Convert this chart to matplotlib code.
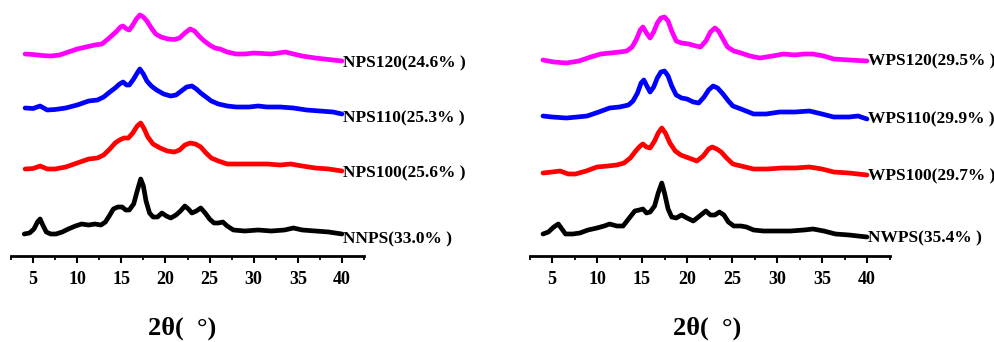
import matplotlib
matplotlib.use("Agg")
import matplotlib.pyplot as plt
from matplotlib.ticker import MultipleLocator

# ---------------- data (stacked intensity, a.u.) ----------------
# Left panel
nnps_x = [4.0, 4.6, 5.1, 5.5, 5.8, 6.1, 6.5, 7.0, 7.6, 8.3, 9.0, 9.8, 10.5, 11.3, 12.0, 12.7, 13.2,
          13.7, 14.1, 14.6, 15.1, 15.5, 15.9, 16.4, 16.8, 17.2, 17.5, 17.8, 18.2, 18.6, 19.1, 19.6,
          20.1, 20.6, 21.2, 21.7, 22.2, 22.6, 23.0, 23.5, 24.0, 24.5, 25.0, 25.5, 26.0, 26.5, 27.0,
          27.7, 29.0, 30.5, 32.0, 33.5, 34.5, 35.5, 37.0, 38.5, 40.0]
nnps_y = [22, 23, 27, 34, 37, 31, 24, 22, 22, 24, 27, 30, 32, 31, 32, 31, 34,
          41, 47, 49, 49, 46, 46, 52, 65, 77, 70, 55, 43, 39, 39, 43,
          40, 38, 41, 45, 50, 47, 43, 45, 48, 43, 37, 33, 33, 34, 30,
          26, 25, 26, 25, 26, 28, 26, 25, 24, 22]

nps100_x = [4.1, 5.0, 5.8, 6.6, 7.5, 8.7, 10.0, 11.3, 12.3, 13.0, 13.7, 14.3, 14.8, 15.3, 15.8, 16.3,
            16.8, 17.2, 17.6, 18.0, 18.6, 19.4, 20.2, 21.0, 21.6, 22.2, 22.8, 23.4, 24.0, 24.6, 25.2,
            26.0, 27.0, 28.5, 30.0, 31.5, 33.0, 34.2, 35.5, 37.0, 38.5, 40.0]
nps100_y = [87, 87.5, 90, 87, 87, 89, 93, 97, 98, 101, 107, 113, 116, 118, 118, 123,
            130, 133, 127, 119, 112, 108, 105, 104, 106, 111, 113, 112, 109, 103, 98,
            95, 92, 92, 92, 92, 91, 92, 90, 88, 87, 85]

nps110_x = [4.1, 5.0, 5.8, 6.6, 7.5, 8.7, 10.0, 11.3, 12.3, 13.0, 13.7, 14.3, 14.8, 15.2, 15.6, 15.9,
            16.4, 16.8, 17.1, 17.5, 17.9, 18.4, 19.0, 19.8, 20.6, 21.2, 21.8, 22.4, 23.0, 23.5, 24.0,
            24.6, 25.2, 26.0, 27.0, 28.0, 29.5, 30.5, 31.5, 33.0, 34.5, 36.0, 37.5, 39.0, 40.0]
nps110_y = [148, 147.5, 150, 146, 146.5, 148, 151, 155, 156, 159, 164, 168, 172, 174, 171, 171,
            177, 183, 187, 182, 175, 170, 166, 162, 160, 161, 165, 169, 170, 167, 163,
            159, 155, 152, 150, 149, 149, 150, 149, 149, 148, 146, 145, 144, 142]

nps120_x = [4.1, 5.0, 6.0, 7.0, 8.0, 9.0, 10.0, 11.0, 12.0, 12.8, 13.5, 14.0, 14.5, 14.9, 15.2, 15.6,
            15.9, 16.3, 16.7, 17.1, 17.5, 17.9, 18.4, 18.9, 19.5, 20.3, 21.0, 21.6, 22.2, 22.8, 23.3,
            23.8, 24.4, 25.0, 25.6, 26.2, 27.0, 28.0, 29.0, 30.0, 31.0, 32.0, 33.6, 34.5, 35.5, 37.0,
            38.5, 40.0]
nps120_y = [202, 201.5, 200.5, 200, 201, 204, 207, 209, 211, 212, 217, 221, 225, 229, 230, 227,
            226, 231, 237, 241, 239, 235, 228, 222, 219, 217, 216.5, 218, 223, 227, 225,
            220, 215, 211, 208, 207, 204, 202, 202, 203, 202.5, 202, 204, 202, 200, 198,
            196.5, 195]

# Right panel
nwps_x = [4.0, 4.6, 5.2, 5.7, 6.1, 6.5, 7.3, 8.1, 9.0, 10.0, 10.8, 11.4, 12.2, 12.9, 13.5, 14.2,
          14.7, 15.1, 15.5, 15.9, 16.4, 16.8, 17.2, 17.5, 17.9, 18.3, 18.8, 19.4, 20.0, 20.7, 21.4,
          22.1, 22.6, 23.1, 23.6, 24.1, 24.6, 25.2, 26.0, 26.6, 27.4, 28.5, 30.0, 31.5, 33.0, 34.0,
          35.2, 36.5, 38.0, 40.0]
nwps_y = [22, 24, 29, 32, 27, 22, 22, 23, 26, 28, 30, 32, 30, 30, 37, 45,
          46, 47, 43, 44, 50, 63, 73, 63, 47, 39, 38, 41, 38, 35, 40,
          45, 41, 41, 44, 41, 34, 30, 30, 29, 26, 25, 25, 25, 26, 27,
          25, 22, 21, 19]

wps100_x = [4.0, 5.0, 5.9, 6.8, 7.6, 8.8, 10.0, 11.2, 12.2, 13.0, 13.7, 14.3, 14.8, 15.1, 15.5, 15.9,
            16.4, 16.8, 17.2, 17.6, 18.1, 18.7, 19.3, 20.2, 21.1, 21.8, 22.4, 22.8, 23.3, 23.8, 24.4,
            25.1, 26.0, 27.4, 29.0, 30.5, 32.0, 33.6, 35.0, 36.3, 38.0, 40.0]
wps100_y = [83, 84, 85, 82, 82, 85, 89, 90, 91, 93, 98, 105, 110, 112, 109, 108,
            115, 123, 128, 123, 113, 105, 101, 98, 95, 100, 107, 109, 107, 104, 98,
            92, 90, 87, 87, 88, 88, 89, 87, 84, 83, 81]

wps110_x = [4.0, 5.0, 6.6, 7.8, 8.9, 10.2, 11.4, 12.5, 13.5, 14.0, 14.5, 14.9, 15.2, 15.6, 15.9, 16.3,
            16.7, 17.1, 17.5, 17.9, 18.3, 18.8, 19.4, 20.0, 20.7, 21.3, 21.9, 22.4, 22.9, 23.4, 24.0,
            24.6, 25.1, 26.0, 27.4, 28.8, 30.3, 32.0, 33.6, 35.0, 36.3, 38.0, 39.0, 40.0]
wps110_y = [140, 139, 138, 139, 140, 144, 148, 149, 151, 155, 163, 173, 176, 169, 164, 169,
            178, 184, 185, 180, 170, 161, 158, 157, 154, 153, 159, 166, 170, 168, 162,
            155, 150, 147, 142, 142, 144, 144, 145, 142, 139, 139, 140, 137]

wps120_x = [4.0, 5.2, 6.6, 8.0, 9.3, 10.4, 11.5, 12.5, 13.3, 13.9, 14.4, 14.8, 15.1, 15.5, 15.9, 16.3,
            16.7, 17.1, 17.5, 17.9, 18.3, 18.8, 19.4, 20.2, 21.0, 21.5, 22.1, 22.6, 23.1, 23.5, 24.0,
            24.5, 25.2, 26.0, 27.0, 28.1, 29.5, 30.7, 32.0, 33.0, 34.0, 35.2, 36.3, 38.0, 40.0]
wps120_y = [196, 194, 193, 195, 199, 202, 203, 204, 205, 209, 217, 226, 229, 223, 218, 224,
            233, 238, 239, 235, 225, 215, 213, 212, 210, 209, 215, 224, 228, 225, 217,
            209, 205, 203, 200, 198, 200, 202, 201, 202, 202, 200, 197, 196, 195]

left_labels = ["NNPS(33.0% )", "NPS100(25.6% )", "NPS110(25.3% )", "NPS120(24.6% )"]
right_labels = ["NWPS(35.4% )", "WPS100(29.7% )", "WPS110(29.9% )", "WPS120(29.5% )"]
label_y_left = [17, 83, 138, 193]
label_y_right = [18, 80, 137, 195]
colors = ["#000000", "#FF0000", "#0000FF", "#FF00FF"]
xlabel = "2θ(  °)"

# ---------------- figure ----------------
plt.rcParams['font.family'] = ['Liberation Serif', 'DejaVu Serif']
fig = plt.figure(figsize=(9.94, 3.42), dpi=100)

ax_l = fig.add_axes([11 / 994, 86 / 342, 353 / 994, 250 / 342])
ax_r = fig.add_axes([529.5 / 994, 86 / 342, 360 / 994, 250 / 342])

left_series = [(nnps_x, nnps_y), (nps100_x, nps100_y), (nps110_x, nps110_y), (nps120_x, nps120_y)]
right_series = [(nwps_x, nwps_y), (wps100_x, wps100_y), (wps110_x, wps110_y), (wps120_x, wps120_y)]

for ax, series, labels, ly, xlab_x in [
        (ax_l, left_series, left_labels, label_y_left, 182),
        (ax_r, right_series, right_labels, label_y_right, 707)]:
    for (x, y), c, lab, yy in zip(series, colors, labels, ly):
        ax.plot(x, y, color=c, lw=3.4, solid_joinstyle='round', solid_capstyle='round')
        ax.text(40.1, yy, lab, ha='left', va='center', fontsize=12.5, fontweight='bold',
                clip_on=False)
    ax.set_xlim(2.5, 42.5)
    ax.set_ylim(0, 250)
    for s in ['top', 'right', 'left']:
        ax.spines[s].set_visible(False)
    ax.spines['bottom'].set_linewidth(2)
    ax.set_yticks([])
    ax.xaxis.set_major_locator(MultipleLocator(5))
    ax.xaxis.set_minor_locator(MultipleLocator(2.5))
    ax.set_xticks(range(5, 45, 5))
    ax.tick_params(axis='x', which='major', direction='out', length=5, width=1.5, pad=6,
                   labelsize=13)
    ax.tick_params(axis='x', which='minor', direction='out', length=3, width=1.3)
    for t in ax.get_xticklabels():
        t.set_fontweight('bold')
    ax.patch.set_visible(False)
    fig.text(xlab_x / 994, 1 - 328 / 342, xlabel, ha='center', va='center',
             fontsize=19, fontweight='bold')

fig.savefig("out.png", dpi=100)
